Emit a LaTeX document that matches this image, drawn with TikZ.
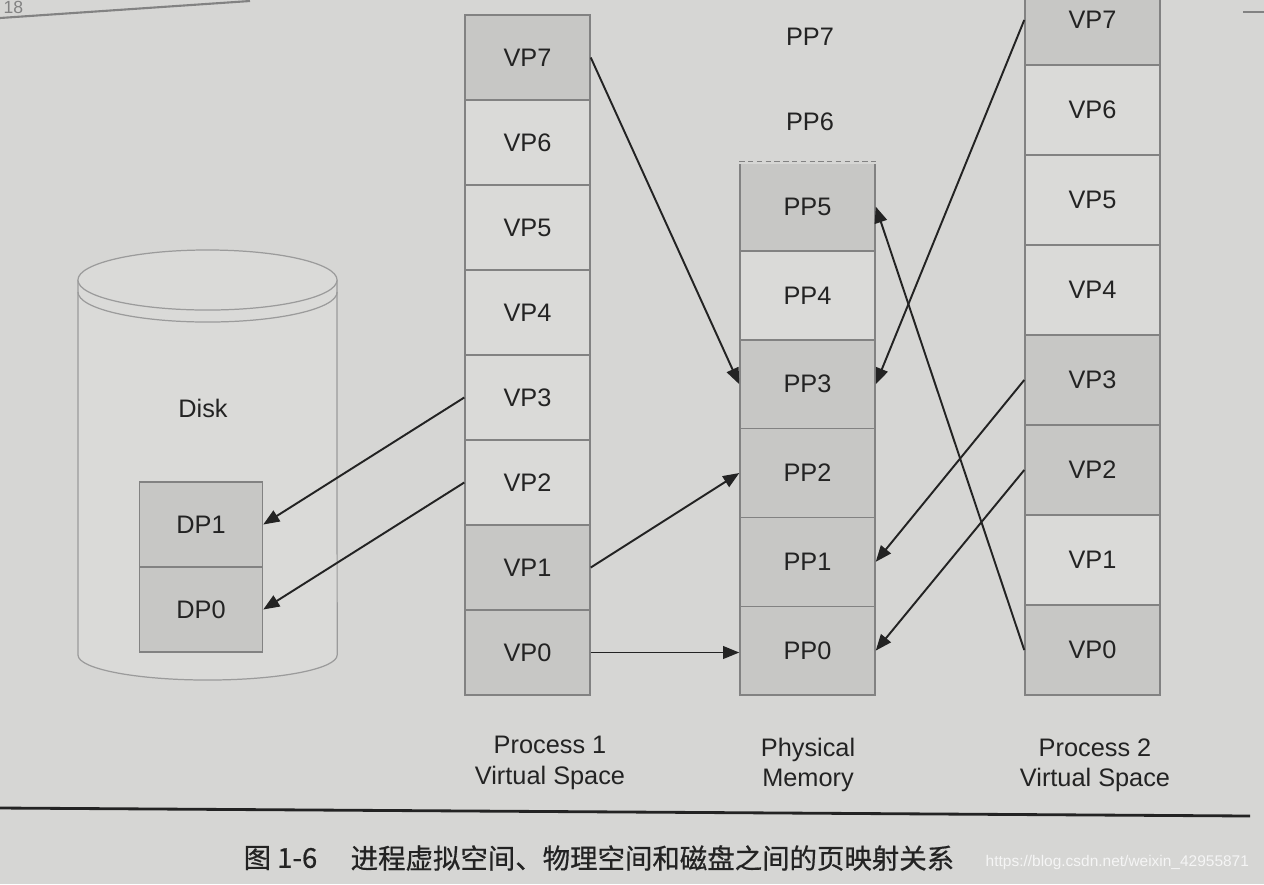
\documentclass[tikz,border=0pt]{standalone}
\usepackage{fontspec}
\setmainfont{Liberation Sans}
\newfontfamily\cjk{Noto Sans CJK SC}[FakeBold=0.6]
\usetikzlibrary{arrows.meta,calc}
\definecolor{bg}{RGB}{214,214,212}
\definecolor{cellA}{RGB}{218,218,216}
\definecolor{cellB}{RGB}{199,199,197}
\definecolor{edge}{RGB}{130,130,130}
\definecolor{ink}{RGB}{35,35,35}
\begin{document}
\begin{tikzpicture}[x=0.01cm,y=-0.01cm,
  cell/.style={draw=edge,line width=0.4pt,inner sep=0pt,text=ink,font=\fontsize{7.2}{8.6}\selectfont},
  p1cell/.style={cell,minimum width=1.25cm,minimum height=0.85cm},
  ppcell/.style={cell,minimum width=1.35cm,minimum height=0.888cm},
  p2cell/.style={cell,minimum width=1.35cm,minimum height=0.9cm},
  dpcell/.style={cell,minimum width=1.23cm,minimum height=0.85cm},
  lbl/.style={text=ink,inner sep=1pt,font=\fontsize{7.2}{8.6}\selectfont},
  conn/.style={draw=ink,line width=0.55pt,-{Triangle[length=4.6pt,width=3.6pt]}}]
\useasboundingbox (0,0) rectangle (1264,884);
\fill[bg] (0,0) rectangle (1264,884);
\clip (0,0) rectangle (1264,884);

% page artefacts
\draw[edge,line width=0.6pt] (0,18) -- (250,1);
\node[text=edge,inner sep=0pt,anchor=north west,font=\fontsize{5}{6}\selectfont] (pagenum) at (3,1) {18};
\draw[edge,line width=0.6pt] (1243,12) -- (1264,12);

% disk
\path[fill=cellA,draw=edge!80,line width=0.35pt] (78,280) -- (78,655)
  arc[start angle=180,end angle=360,x radius=1.295cm,y radius=0.25cm] -- (337,280);
\draw[edge!80,line width=0.35pt,fill=cellA] (207.5,280) ellipse [x radius=1.295cm,y radius=0.3cm];
\draw[edge!80,line width=0.35pt] (78,292) arc[start angle=180,end angle=360,x radius=1.295cm,y radius=0.3cm];
\node[lbl] (disk) at (203,408) {Disk};
\node[dpcell,fill=cellB] (dp-1) at (201,524.5) {DP1};
\node[dpcell,fill=cellB] (dp-0) at (201,609.5) {DP0};

% process 1
\foreach \i/\f in {0/cellB,1/cellB,2/cellA,3/cellA,4/cellA,5/cellA,6/cellA,7/cellB}
  \node[p1cell,fill=\f] (p1-\i) at (527.5,{652.5-85*\i}) {VP\i};

% physical memory
\foreach \i/\f in {0/cellB,1/cellB,2/cellB,3/cellB,4/cellA,5/cellB}
  \node[ppcell,fill=\f] (pp-\i) at (807.5,{650.6-88.8*\i}) {PP\i};
\draw[bg,line width=1.2pt] (pp-5.north west) -- (pp-5.north east);
\draw[edge,line width=0.4pt,dash pattern=on 1.5pt off 1pt] (pp-5.north west) -- (pp-5.north east);
\node[lbl] (pp-6) at (810,122) {PP6};
\node[lbl] (pp-7) at (810,37) {PP7};

% process 2
\foreach \i/\f in {0/cellB,1/cellA,2/cellB,3/cellB,4/cellA,5/cellA,6/cellA,7/cellB}
  \node[p2cell,fill=\f] (p2-\i) at (1092.5,{650-90*\i}) {VP\i};

% connectors
\draw[conn] (p1-3.west) -- (dp-1.east);
\draw[conn] (p1-2.west) -- (dp-0.east);
\draw[conn] (p1-7.east) -- (pp-3.west);
\draw[conn] (p1-1.east) -- (pp-2.west);
\draw[conn] (p1-0.east) -- (p1-0.east -| pp-0.west);
\draw[conn] (p2-7.west) -- (pp-3.east);
\draw[conn] (p2-0.west) -- (pp-5.east);
\draw[conn] (p2-3.west) -- (pp-1.east);
\draw[conn] (p2-2.west) -- (pp-0.east);

% column labels
\node[lbl,align=center] (lab1) at (550,763) {Process 1\\Virtual Space};
\node[lbl,align=center] (lab2) at (808,765) {Physical\\Memory};
\node[lbl,align=center] (lab3) at (1095,765) {Process 2\\Virtual Space};

% caption
\draw[ink,line width=0.8pt] (0,808) -- (1250,816);
\node[anchor=west,inner sep=0pt,text=ink,font=\cjk\fontsize{7.8}{9}\selectfont] (capnum) at (243,858) {图 1-6};
\node[anchor=west,inner sep=0pt,text=ink,font=\cjk\fontsize{7.8}{9}\selectfont] (captext) at (350,858) {进程虚拟空间、物理空间和磁盘之间的页映射关系};
\node[anchor=west,inner sep=0pt,text=white!92!gray,font=\fontsize{4.4}{5}\selectfont] (wm) at (985,862) {https://blog.csdn.net/weixin\_42955871};
\end{tikzpicture}
\end{document}
